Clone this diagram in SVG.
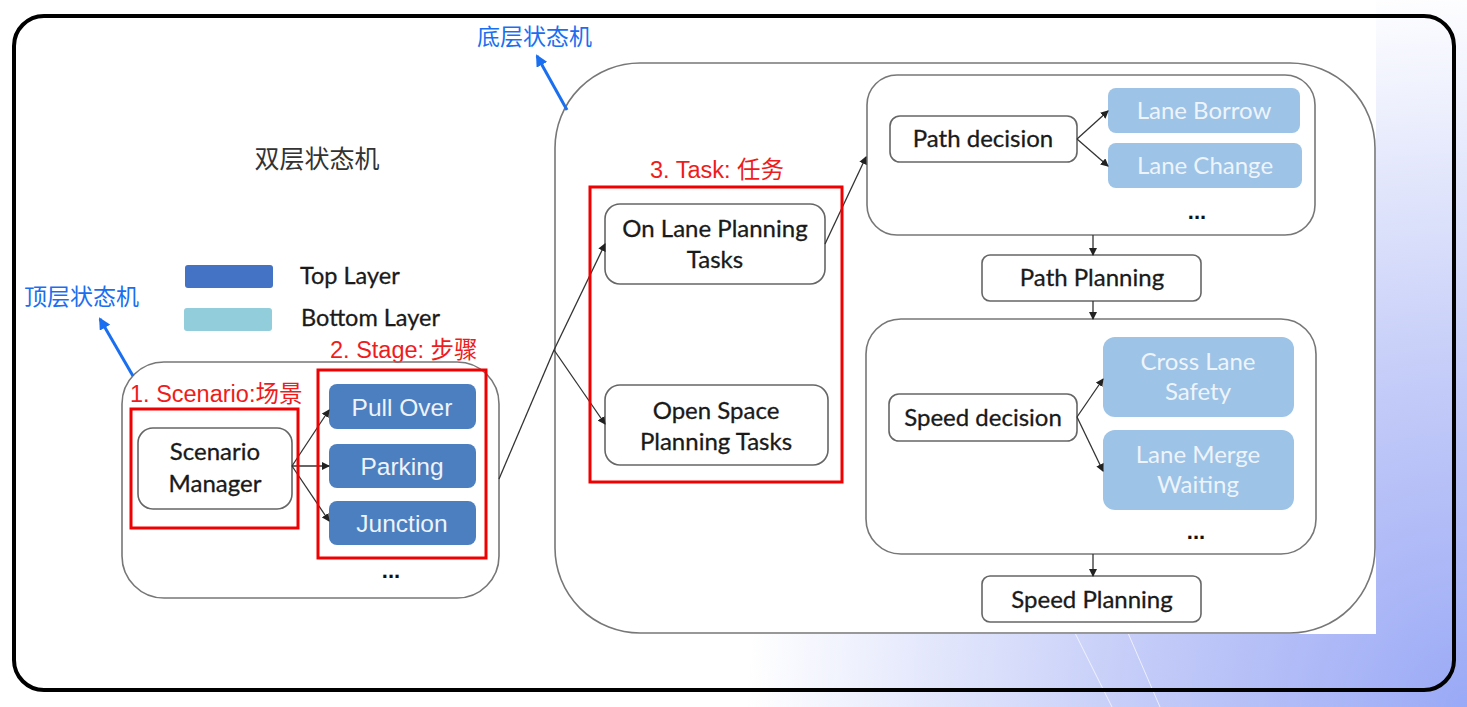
<svg xmlns="http://www.w3.org/2000/svg" width="1467" height="707" viewBox="0 0 1467 707">
<defs>
<radialGradient id="bg" cx="1467" cy="707" r="720" gradientUnits="userSpaceOnUse">
<stop offset="0" stop-color="#9aa9f6"/>
<stop offset="0.45" stop-color="#c3cbf8"/>
<stop offset="1" stop-color="#ffffff"/>
</radialGradient>
<marker id="ah" markerWidth="8" markerHeight="8" refX="7" refY="4" orient="auto" markerUnits="userSpaceOnUse">
<path d="M0,0 L8,4 L0,8 Z" fill="#222"/>
</marker>
<marker id="bh" markerWidth="12" markerHeight="12" refX="10" refY="6" orient="auto" markerUnits="userSpaceOnUse">
<path d="M0,0 L12,6 L0,12 Z" fill="#1a6ff0"/>
</marker>
<style>
.grp{fill:none;stroke:#777;stroke-width:1.6}
.node{fill:#fff;stroke:#666;stroke-width:1.6}
.top{fill:#4c7fc0}
.bot{fill:#9dc3e6}
.red{fill:none;stroke:#f00000;stroke-width:3}
.t{font-family:Lato,"Noto Sans",sans-serif;font-size:24px;fill:#1a1a1a;text-anchor:middle;stroke:#1a1a1a;stroke-width:0.3}
.tw{font-family:"Liberation Sans",Arial,sans-serif;font-size:24.5px;fill:#eef3fb;text-anchor:middle}
.tb{font-family:Lato,"Noto Sans",sans-serif;font-size:24px;fill:#eef4fb;text-anchor:middle}
.rl{font-family:"Liberation Sans","Noto Sans CJK SC",sans-serif;font-size:23.5px;fill:#ee1c1c}
.bl{font-family:"Noto Sans CJK SC",sans-serif;font-size:23px;fill:#1a6ff0}
.lg{font-family:Lato,"Noto Sans",sans-serif;font-size:23.5px;fill:#1a1a1a;stroke:#1a1a1a;stroke-width:0.3}
.con{fill:none;stroke:#333;stroke-width:1.3;marker-end:url(#ah)}
.dots{font-family:"Liberation Sans",sans-serif;font-size:22px;font-weight:bold;fill:#111;text-anchor:middle}
</style>
</defs>
<rect x="0" y="0" width="1467" height="707" fill="url(#bg)"/>
<line x1="1075" y1="633" x2="1112" y2="707" stroke="#ffffff" stroke-opacity="0.7" stroke-width="1"/>
<line x1="1128" y1="633" x2="1160" y2="707" stroke="#ffffff" stroke-opacity="0.7" stroke-width="1"/>
<rect x="0" y="0" width="1376" height="634" fill="#fff"/>
<rect x="14" y="16" width="1440" height="674" rx="30" fill="none" stroke="#000" stroke-width="4"/>

<text x="317" y="168" font-family="Noto Sans CJK SC,sans-serif" font-size="25" fill="#333" text-anchor="middle">双层状态机</text>

<g id="legend">
<rect x="185" y="265" width="88" height="23" rx="3" fill="#4472c4"/>
<rect x="184" y="308" width="88" height="23" rx="3" fill="#92cddc"/>
<text x="300" y="284" class="lg">Top Layer</text>
<text x="301" y="326" class="lg">Bottom Layer</text>
</g>

<g id="labels">
<text x="24" y="305" class="bl">顶层状态机</text>
<text x="477" y="45" class="bl">底层状态机</text>
<text x="130" y="402" class="rl">1. Scenario:场景</text>
<text x="330" y="358" class="rl">2. Stage: 步骤</text>
<text x="650" y="178" class="rl">3. Task: 任务</text>
</g>

<g id="top-layer">
<rect x="122" y="362" width="377" height="236" rx="42" class="grp"/>
<text x="391" y="578" class="dots">...</text>
</g>
<g id="bottom-layer">
<rect x="555" y="63" width="820" height="570" rx="85" class="grp"/>
</g>
<g id="path-decision-group">
<rect x="867" y="75" width="448" height="160" rx="30" class="grp"/>
<text x="1197" y="219" class="dots">...</text>
</g>
<g id="speed-decision-group">
<rect x="866" y="319" width="450" height="235" rx="35" class="grp"/>
<text x="1196" y="539" class="dots">...</text>
</g>

<g id="scenario-manager">
<rect x="138" y="428" width="154" height="81" rx="15" class="node"/>
<text x="215" y="460" class="t">Scenario</text>
<text x="215" y="492" class="t">Manager</text>
</g>
<g id="pull-over"><rect x="329" y="384" width="147" height="45" rx="8" class="top"/><text x="402" y="416" class="tw">Pull  Over</text></g>
<g id="parking"><rect x="329" y="444" width="147" height="44" rx="8" class="top"/><text x="402" y="475" class="tw">Parking</text></g>
<g id="junction"><rect x="329" y="501" width="147" height="44" rx="8" class="top"/><text x="402" y="532" class="tw">Junction</text></g>

<g id="on-lane">
<rect x="605" y="204" width="220" height="80" rx="15" class="node"/>
<text x="715" y="237" class="t">On Lane Planning</text>
<text x="715" y="268" class="t">Tasks</text>
</g>
<g id="open-space">
<rect x="605" y="385" width="223" height="80" rx="15" class="node"/>
<text x="716" y="419" class="t">Open Space</text>
<text x="716" y="450" class="t">Planning Tasks</text>
</g>

<g id="path-decision"><rect x="890" y="116" width="187" height="46" rx="10" class="node"/><text x="983" y="147" class="t">Path decision</text></g>
<g id="lane-borrow"><rect x="1108" y="88" width="192" height="45" rx="8" class="bot"/><text x="1204" y="119" class="tb">Lane Borrow</text></g>
<g id="lane-change"><rect x="1108" y="143" width="194" height="45" rx="8" class="bot"/><text x="1205" y="174" class="tb">Lane Change</text></g>
<g id="path-planning"><rect x="982" y="255" width="219" height="46" rx="8" class="node"/><text x="1092" y="286" class="t">Path Planning</text></g>
<g id="speed-decision"><rect x="889" y="394" width="188" height="47" rx="10" class="node"/><text x="983" y="426" class="t">Speed decision</text></g>
<g id="cross-lane"><rect x="1103" y="337" width="191" height="80" rx="12" class="bot"/><text x="1198" y="370" class="tb">Cross Lane</text><text x="1198" y="400" class="tb">Safety</text></g>
<g id="lane-merge"><rect x="1103" y="430" width="191" height="80" rx="12" class="bot"/><text x="1198" y="463" class="tb">Lane Merge</text><text x="1198" y="493" class="tb">Waiting</text></g>
<g id="speed-planning"><rect x="982" y="576" width="219" height="46" rx="8" class="node"/><text x="1092" y="608" class="t">Speed Planning</text></g>

<g id="connectors">
<line x1="292" y1="466" x2="329" y2="410" class="con"/>
<line x1="292" y1="466" x2="329" y2="466" class="con"/>
<line x1="292" y1="466" x2="329" y2="521" class="con"/>
<line x1="499" y1="479" x2="554" y2="350" stroke="#333" stroke-width="1.3"/>
<line x1="554" y1="350" x2="605" y2="244" class="con"/>
<line x1="554" y1="350" x2="605" y2="424" class="con"/>
<line x1="825" y1="244" x2="866" y2="157" class="con"/>
<line x1="1077" y1="139" x2="1108" y2="111" class="con"/>
<line x1="1077" y1="139" x2="1108" y2="166" class="con"/>
<line x1="1093" y1="235" x2="1093" y2="255" class="con"/>
<line x1="1093" y1="301" x2="1093" y2="319" class="con"/>
<line x1="1077" y1="417" x2="1103" y2="379" class="con"/>
<line x1="1077" y1="417" x2="1103" y2="471" class="con"/>
<line x1="1093" y1="554" x2="1093" y2="576" class="con"/>
<line x1="133" y1="376" x2="100" y2="319" stroke="#1a6ff0" stroke-width="3" marker-end="url(#bh)"/>
<line x1="567" y1="110" x2="537" y2="56" stroke="#1a6ff0" stroke-width="3" marker-end="url(#bh)"/>
</g>

<g id="red-boxes">
<rect x="131" y="409" width="167" height="119" class="red"/>
<rect x="318" y="370" width="168" height="188" class="red"/>
<rect x="590" y="187" width="252" height="295" class="red"/>
</g>
</svg>
